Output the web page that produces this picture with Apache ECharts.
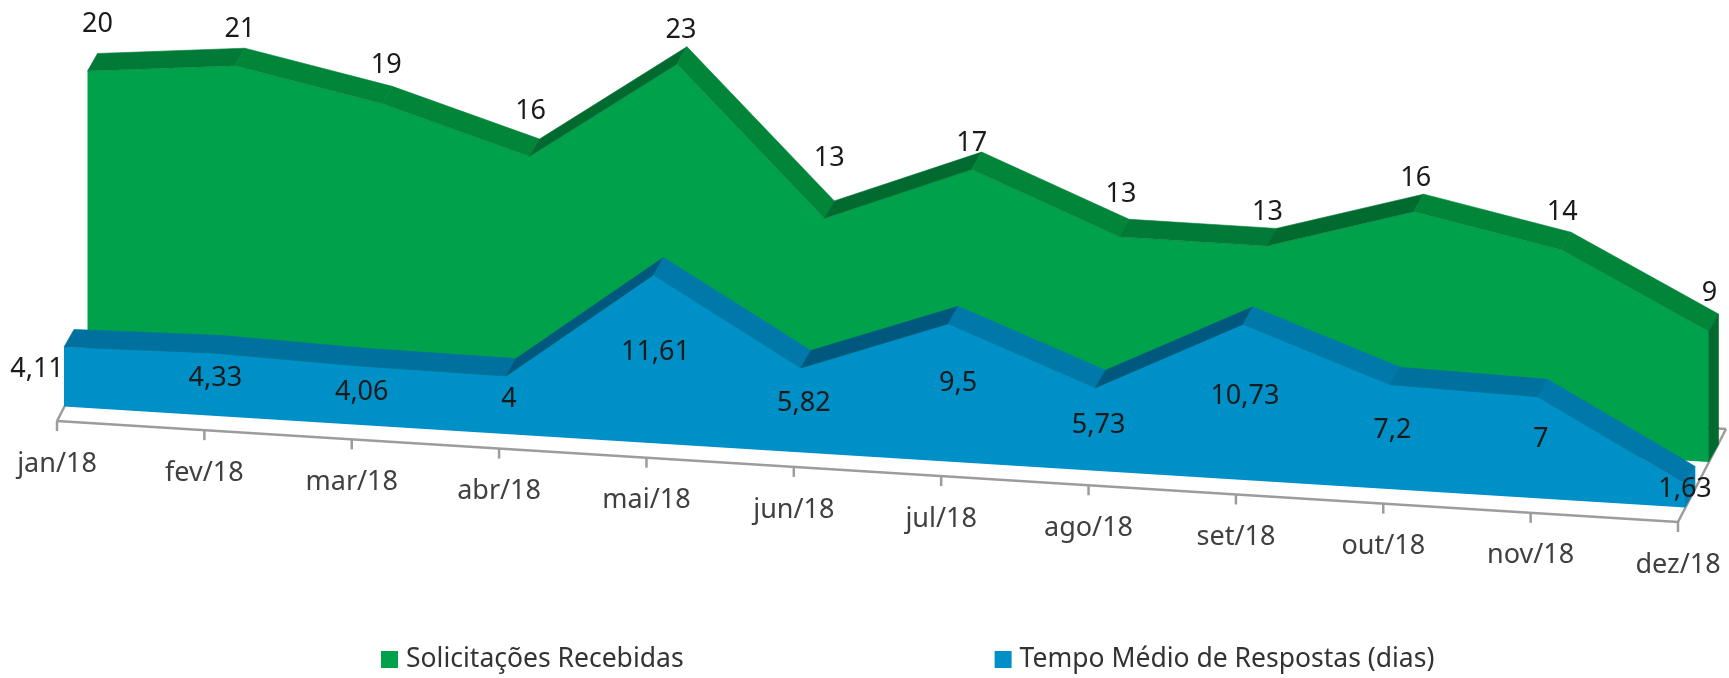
<!DOCTYPE html>
<html lang="pt-BR">
<head>
  <meta charset="utf-8">
  <title>Solicitações Recebidas</title>
  <script src="https://cdn.jsdelivr.net/npm/echarts@6/dist/echarts.min.js"></script>
  <style>
    html, body { margin: 0; padding: 0; background: #fff; }
    #chart { width: 1729px; height: 678px; }
  </style>
</head>
<body>
<div id="chart"></div>
<script>
  var categories = ['jan/18', 'fev/18', 'mar/18', 'abr/18', 'mai/18', 'jun/18',
                    'jul/18', 'ago/18', 'set/18', 'out/18', 'nov/18', 'dez/18'];
  var solicitacoes = [20, 21, 19, 16, 23, 13, 17, 13, 13, 16, 14, 9];
  var tempoMedio = [4.11, 4.33, 4.06, 4, 11.61, 5.82, 9.5, 5.73, 10.73, 7.2, 7, 1.63];

  // label offset from the front top corner of each point, as Excel placed them
  var solicitacoesLabelShift = [[10,-47],[5,-36],[4,-39],[1,-45],[4,-34],[5,-60],
                                [0,-26],[2,-42],[1,-34],[2,-33],[1,-37],[1,-38]];
  var tempoLabelShift = [[-27,22],[4,25],[3,26],[3,23],[2,77],[3,35],
                         [10,59],[3,38],[2,72],[2,46],[3,43],[0,5]];

  // fake 3D: the flat grid is sheared, then each series is pushed back on the floor
  var GRID_LEFT = 57, GRID_W = 1621;
  var SHEAR = 0.0623;
  var DEPTH = [10, -17.5];      // thickness of the area
  var FLOOR = [48, -93];        // full depth of the floor
  var FONT = '"Noto Sans", sans-serif';

  var greenStyle = { name: 'Solicitações Recebidas', values: solicitacoes, shift: [30.5, -60], labels: solicitacoesLabelShift,
    front: '#00a14b', side: '#006b2f', rise: '#006a2f', flat: '#007a36', fall: '#008539' };
  var blueStyle = { name: 'Tempo Médio de Respostas (dias)', values: tempoMedio, shift: [7, -14.5], labels: tempoLabelShift,
    front: '#0090c8', side: '#007fb4', rise: '#00587f', flat: '#00709f', fall: '#0079aa' };

  function project(api, i, v, shift) {
    var p = api.coord([i, v]);
    return [p[0] + shift[0], p[1] + (p[0] - GRID_LEFT) * SHEAR + shift[1]];
  }

  function add(p, d) { return [p[0] + d[0], p[1] + d[1]]; }

  function poly(points, color, edge) {
    return { type: 'polygon', shape: { points: points },
      style: { fill: color, stroke: edge ? color : null, lineWidth: 0.6 } };
  }

  function areaRender(cfg) {
    return function (params, api) {
      var i = api.value(0), kids = [];
      var last = cfg.values.length - 1;
      var top = project(api, i, api.value(1), cfg.shift);
      if (i === 0) {
        // the front face is one piece, drawn once
        var pts = cfg.values.map(function (v, k) { return project(api, k, v, cfg.shift); });
        pts.push(project(api, last, 0, cfg.shift));
        pts.push(project(api, 0, 0, cfg.shift));
        kids.push(poly(pts, cfg.front, false));
      }
      if (i < last) {
        var top2 = project(api, i + 1, cfg.values[i + 1], cfg.shift);
        var slope = (top2[1] - top[1]) / (top2[0] - top[0]);
        var c = slope < -0.15 ? cfg.rise : (slope < 0.15 ? cfg.flat : cfg.fall);
        kids.push(poly([top, top2, add(top2, DEPTH), add(top, DEPTH)], c, true));
      } else {
        var base = project(api, i, 0, cfg.shift);
        kids.push(poly([top, add(top, DEPTH), add(base, DEPTH), base], cfg.side, true));
      }
      return { type: 'group', children: kids };
    };
  }

  // drawn last so the numbers stay on top of every facet
  function labelRender(cfg) {
    return function (params, api) {
      var i = api.value(0);
      var top = project(api, i, api.value(1), cfg.shift);
      var txt = String(api.value(1)).replace('.', ',');
      return { type: 'text', style: { x: top[0] + cfg.labels[i][0], y: top[1] + cfg.labels[i][1],
        text: txt, fill: '#1a1a1a', font: '27px ' + FONT, align: 'center', verticalAlign: 'middle' } };
    };
  }

  function floorRender(params, api) {
    var i = api.value(0), kids = [];
    var p = project(api, i, 0, [0, 0]);
    var gray = { stroke: '#9c9c9c', lineWidth: 2.5, fill: null };
    kids.push({ type: 'line', shape: { x1: p[0], y1: p[1], x2: p[0], y2: p[1] + 10 }, style: gray });
    if (i === 0 || i === categories.length - 1) {
      var b = add(p, FLOOR);
      kids.push({ type: 'line', shape: { x1: p[0], y1: p[1], x2: b[0], y2: b[1] }, style: gray });
    }
    if (i === categories.length - 1) {
      var s = project(api, 0, 0, [0, 0]), sb = add(s, FLOOR), b2 = add(p, FLOOR);
      kids.push({ type: 'line', shape: { x1: s[0], y1: s[1], x2: p[0], y2: p[1] }, style: gray });
      kids.push({ type: 'line', shape: { x1: sb[0], y1: sb[1], x2: b2[0], y2: b2[1] }, style: gray });
    }
    kids.push({ type: 'text', style: { x: p[0], y: p[1] + 43, text: categories[i],
      fill: '#404040', font: '27px ' + FONT, align: 'center', verticalAlign: 'middle' } });
    return { type: 'group', children: kids };
  }

  function rows(values) {
    return values.map(function (v, i) { return [i, v]; });
  }

  function areaSeries(cfg) {
    return { name: cfg.name, type: 'custom', renderItem: areaRender(cfg), data: rows(cfg.values),
      encode: { x: 0, y: 1 }, itemStyle: { color: cfg.front }, silent: true };
  }

  function labelSeries(cfg, z) {
    return { type: 'custom', renderItem: labelRender(cfg), data: rows(cfg.values),
      encode: { x: 0, y: 1 }, silent: true, z: z };
  }

  var chart = echarts.init(document.getElementById('chart'));
  chart.setOption({
    animation: false,
    backgroundColor: '#fff',
    grid: { left: GRID_LEFT, width: GRID_W, top: 58.5, height: 362.5 },
    xAxis: { type: 'value', min: 0, max: categories.length - 1, show: false },
    yAxis: { type: 'value', min: 0, max: 25, show: false },
    legend: {
      left: 376, top: 641, itemWidth: 17, itemHeight: 17, itemGap: 311, icon: 'rect',
      textStyle: { fontFamily: 'Noto Sans', fontSize: 26.5, color: '#333', padding: [0, 0, 0, 3] },
      data: [greenStyle.name, blueStyle.name]
    },
    series: [
      { type: 'custom', renderItem: floorRender, data: rows(categories.map(function () { return 0; })),
        encode: { x: 0, y: 1 }, silent: true, z: 1 },
      Object.assign(areaSeries(greenStyle), { z: 2 }),
      Object.assign(areaSeries(blueStyle), { z: 3 }),
      labelSeries(greenStyle, 4),
      labelSeries(blueStyle, 4)
    ]
  });
</script>
</body>
</html>
